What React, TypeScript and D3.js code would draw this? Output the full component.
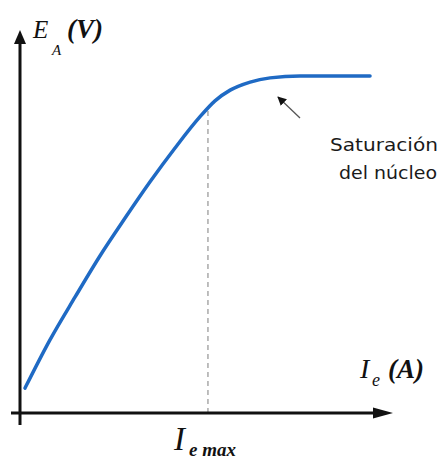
import React from "react";
import * as d3 from "d3";

// Magnetisation curve of a DC generator: induced EMF vs. field current
const fieldCurrent = [1.35, 8.1, 14.9, 21.6, 28.4, 35.1, 41.9, 48.6, 52.7, 56.8, 62.2, 67.6, 75.7, 94.6];
const inducedEmf = [6.5, 19.1, 30.3, 41.0, 50.9, 60.3, 69.2, 77.3, 81.5, 84.3, 86.4, 87.5, 88.0, 88.0];
const fieldCurrentMax = 50.8;

const W = 442;
const H = 459;

export default function App() {
  const x = d3.scaleLinear().domain([0, 100]).range([20, 390]);
  const y = d3.scaleLinear().domain([0, 100]).range([413, 30]);

  const pts: [number, number][] = fieldCurrent.map((v, i) => [v, inducedEmf[i]]);
  const line = d3
    .line<[number, number]>()
    .x((d) => x(d[0]))
    .y((d) => y(d[1]))
    .curve(d3.curveMonotoneX);

  // EMF on the curve at the maximum field current (linear between samples)
  const j = d3.bisectRight(fieldCurrent, fieldCurrentMax);
  const t = (fieldCurrentMax - fieldCurrent[j - 1]) / (fieldCurrent[j] - fieldCurrent[j - 1]);
  const emfAtMax = inducedEmf[j - 1] + t * (inducedEmf[j] - inducedEmf[j - 1]);

  const x0 = x(0);
  const y0 = y(0);
  const xEnd = 393;
  const yTop = 30;

  const serif = "'Liberation Serif', 'DejaVu Serif', serif";

  return (
    <svg
      width={W}
      height={H}
      viewBox={`0 0 ${W} ${H}`}
      style={{ position: "absolute", left: 0, top: 0, background: "#fff" }}
    >
      <defs>
        <marker
          id="noteArrow"
          viewBox="0 0 10 10"
          refX="9"
          refY="5"
          markerWidth="9"
          markerHeight="9"
          markerUnits="userSpaceOnUse"
          orient="auto"
        >
          <path d="M0,0 L10,5 L0,10 Z" fill="#111" />
        </marker>
      </defs>

      {/* dashed guide at the maximum field current */}
      <line
        x1={x(fieldCurrentMax)}
        x2={x(fieldCurrentMax)}
        y1={y0}
        y2={y(emfAtMax)}
        stroke="#8a8a8a"
        strokeWidth={1.1}
        strokeDasharray="5,4"
      />

      {/* axes */}
      <line x1={x0} x2={x0} y1={425} y2={yTop + 12} stroke="#111" strokeWidth={3} />
      <path d={`M${x0},${yTop} L${x0 - 6},${yTop + 14} L${x0 + 6},${yTop + 14} Z`} fill="#111" />
      <line x1={11} x2={xEnd - 16} y1={y0} y2={y0} stroke="#111" strokeWidth={3} />
      <path d={`M${xEnd},${y0} L${xEnd - 20},${y0 - 5.5} L${xEnd - 20},${y0 + 5.5} Z`} fill="#111" />

      {/* curve */}
      <path
        d={line(pts) ?? ""}
        fill="none"
        stroke="#1f6ac4"
        strokeWidth={3.5}
        strokeLinecap="round"
      />

      {/* saturation note */}
      <line
        x1={300}
        y1={118}
        x2={278}
        y2={97}
        stroke="#555"
        strokeWidth={1.3}
        markerEnd="url(#noteArrow)"
      />
      <text
        x={330}
        y={151}
        fontFamily="'DejaVu Sans', sans-serif"
        fontSize={18}
        textLength={108}
        lengthAdjust="spacingAndGlyphs"
        fill="#1a1a1a"
      >
        Saturación
      </text>
      <text
        x={339}
        y={179}
        fontFamily="'DejaVu Sans', sans-serif"
        fontSize={18}
        textLength={98}
        lengthAdjust="spacingAndGlyphs"
        fill="#1a1a1a"
      >
        del núcleo
      </text>

      {/* axis labels */}
      <text fontFamily={serif} fontStyle="italic" fill="#111">
        <tspan x={33} y={38} fontSize={25}>E</tspan>
        <tspan x={52} y={55} fontSize={15}>A</tspan>
        <tspan x={67} y={38} fontSize={27} fontWeight="bold">(V)</tspan>
      </text>
      <text fontFamily={serif} fontStyle="italic" fill="#111">
        <tspan x={360} y={378} fontSize={28}>I</tspan>
        <tspan x={372} y={386} fontSize={18}>e</tspan>
        <tspan x={388} y={378} fontSize={27} fontWeight="bold">(A)</tspan>
      </text>
      <text fontFamily={serif} fontStyle="italic" fill="#111">
        <tspan x={174} y={450} fontSize={33}>I</tspan>
        <tspan x={189} y={456} fontSize={19} fontWeight="bold">e max</tspan>
      </text>
    </svg>
  );
}
